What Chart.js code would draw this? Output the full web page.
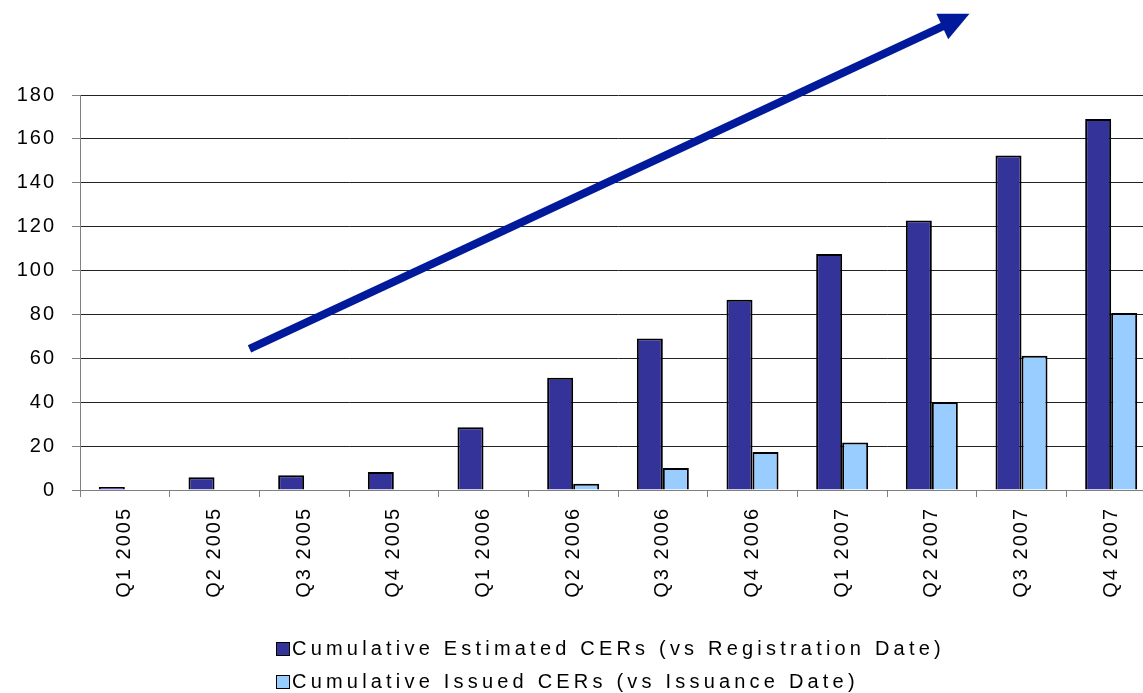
<!DOCTYPE html>
<html>
<head>
<meta charset="utf-8">
<script src="https://cdn.jsdelivr.net/npm/chart.js@4"></script>
<style>
    html, body { margin: 0; padding: 0; background: #fff; overflow: hidden; }
    #wrap { position: relative; width: 1156px; height: 693px; }
    #legend {
        position: absolute; left: 276px; top: 635px;
        font-family: "Liberation Sans", Arial, sans-serif; font-size: 20px;
        letter-spacing: 4.2px; color: #000;
    }
    #legend .row { height: 33px; line-height: 26px; white-space: nowrap; }
    #legend .box {
        display: inline-block; width: 12px; height: 12px; border: 1px solid #000;
        margin-right: 2px; vertical-align: -1px;
    }
</style>
</head>
<body>
<div id="wrap">
    <canvas id="chart"></canvas>
    <div id="legend"></div>
</div>
<script>
const categories = ['Q1 2005', 'Q2 2005', 'Q3 2005', 'Q4 2005', 'Q1 2006', 'Q2 2006',
    'Q3 2006', 'Q4 2006', 'Q1 2007', 'Q2 2007', 'Q3 2007', 'Q4 2007'];
const estimatedCERs = [0.8, 5.8, 6.7, 8.2, 28.6, 51.2, 69, 86.7, 107.6, 122.8, 152.4, 169.1];
const issuedCERs = [null, null, null, null, null, 2.9, 10, 17.3, 21.6, 40.1, 61.2, 80.7];
const seriesNames = ['Cumulative Estimated CERs (vs Registration Date)', 'Cumulative Issued CERs (vs Issuance Date)'];
const seriesColors = ['#333399', '#99CCFF'];
const yTicks = [0, 20, 40, 60, 80, 100, 120, 140, 160, 180];
// trend arrow, in data units: [category index, value]
const arrowFrom = [1.39, 64.3];
const arrowTo = [9.42, 217];

document.addEventListener('DOMContentLoaded', function() {
    const legend = document.getElementById('legend');
    seriesNames.forEach((name, i) => {
        const row = document.createElement('div');
        row.className = 'row';
        row.innerHTML = `<span class="box" style="background:${seriesColors[i]}"></span>${name}`;
        legend.appendChild(row);
    });

    const spacingPlugin = {
        id: 'spacing',
        beforeUpdate(chart) { chart.ctx.letterSpacing = '2px'; },
        beforeDraw(chart) { chart.ctx.letterSpacing = '2px'; }
    };

    const arrowPlugin = {
        id: 'arrow',
        afterDatasetsDraw(chart) {
            const ctx = chart.ctx;
            const xs = chart.scales.x, ys = chart.scales.y;
            const x0 = xs.getPixelForValue(arrowFrom[0]), y0 = ys.getPixelForValue(arrowFrom[1]);
            const x1 = xs.getPixelForValue(arrowTo[0]), y1 = ys.getPixelForValue(arrowTo[1]);
            const len = Math.hypot(x1 - x0, y1 - y0);
            const ux = (x1 - x0) / len, uy = (y1 - y0) / len;
            const headLen = 30, headHalf = 14;
            const bx = x1 - ux * headLen, by = y1 - uy * headLen;
            ctx.save();
            ctx.strokeStyle = '#001A9B';
            ctx.fillStyle = '#001A9B';
            ctx.lineWidth = 8;
            ctx.beginPath();
            ctx.moveTo(x0, y0);
            ctx.lineTo(bx + ux * 4, by + uy * 4);
            ctx.stroke();
            ctx.beginPath();
            ctx.moveTo(x1, y1);
            ctx.lineTo(bx - uy * headHalf, by + ux * headHalf);
            ctx.lineTo(bx + uy * headHalf, by - ux * headHalf);
            ctx.closePath();
            ctx.fill();
            ctx.restore();
        }
    };

    new Chart(document.getElementById('chart'), {
        type: 'bar',
        data: {
            labels: categories,
            datasets: [{
                label: seriesNames[0],
                data: estimatedCERs,
                backgroundColor: seriesColors[0],
                borderColor: '#000',
                borderWidth: 2,
                minBarLength: 3
            }, {
                label: seriesNames[1],
                data: issuedCERs,
                backgroundColor: seriesColors[1],
                borderColor: '#000',
                borderWidth: 2
            }]
        },
        options: {
            responsive: true,
            maintainAspectRatio: false,
            animation: false,
            layout: { padding: { top: 95, right: 0, left: 0, bottom: 0 } },
            plugins: {
                legend: { display: false },
                tooltip: { enabled: false }
            },
            datasets: {
                bar: { categoryPercentage: 0.58, barPercentage: 1.0 }
            },
            scales: {
                x: {
                    offset: true,
                    grid: {
                        offset: true,
                        drawOnChartArea: false,
                        tickLength: 7,
                        tickColor: '#808080'
                    },
                    border: { color: '#808080', width: 1 },
                    ticks: {
                        minRotation: 90,
                        maxRotation: 90,
                        padding: 10,
                        color: '#000',
                        font: { family: '"Liberation Sans", Arial, sans-serif', size: 20 }
                    },
                    afterFit(scale) { scale.height = 203; }
                },
                y: {
                    min: 0,
                    max: 180,
                    afterBuildTicks(scale) { scale.ticks = yTicks.map(v => ({ value: v })); },
                    grid: {
                        color: '#222',
                        lineWidth: 1,
                        tickLength: 8,
                        tickColor: '#808080'
                    },
                    border: { color: '#808080', width: 1 },
                    ticks: {
                        padding: 16,
                        color: '#000',
                        font: { family: '"Liberation Sans", Arial, sans-serif', size: 20 }
                    },
                    afterFit(scale) { scale.width = 80; }
                }
            }
        },
        plugins: [spacingPlugin, arrowPlugin]
    });
});
</script>
</body>
</html>
